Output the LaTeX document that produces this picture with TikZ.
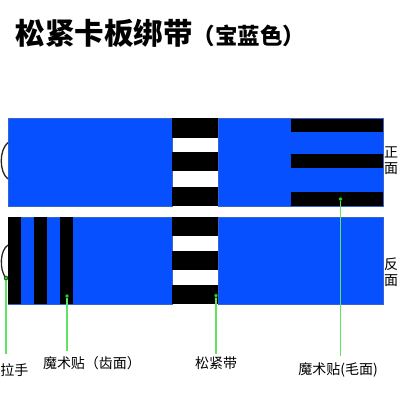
\documentclass[tikz,border=0pt]{standalone}
\usepackage{fontspec}
\setmainfont{Noto Sans CJK SC}
\newfontfamily\cjk{Noto Sans CJK SC}
\usepackage{tikz}

\definecolor{strapblue}{RGB}{6,80,255}
\definecolor{pointgreen}{RGB}{30,215,30}

\tikzset{
  labeltext/.style={inner sep=0pt, font=\fontsize{14}{14}\cjk},
  sidetext/.style={inner sep=0pt, font=\fontsize{14}{16}\cjk, align=center},
  pointer/.style={draw=pointgreen!70!white, line width=1.2pt},
  pointdot/.style={fill=pointgreen}
}

\begin{document}
\begin{tikzpicture}[x=1pt, y=-1pt]
            \useasboundingbox (0, 0) rectangle (400, 400);

            % draw title
            \node[anchor=west, inner sep=0pt] (title) at (15.5, 33) {\fontsize{29.5}{30}\cjk\bfseries 松紧卡板绑带\fontsize{22.5}{23}\selectfont（宝蓝色）};

            % draw blue strips
            \filldraw[fill=strapblue, draw=strapblue!60!gray, line width=0.4pt] (8, 118) -- (172, 118) -- (172, 206) -- (8, 206) -- (8, 118);
            \filldraw[fill=strapblue, draw=strapblue!60!gray, line width=0.4pt] (218, 118) -- (383, 118) -- (383, 206) -- (218, 206) -- (218, 118);
            \filldraw[fill=strapblue, draw=strapblue!60!gray, line width=0.4pt] (8, 217) -- (172, 217) -- (172, 304) -- (8, 304) -- (8, 217);
            \filldraw[fill=strapblue, draw=strapblue!60!gray, line width=0.4pt] (218, 217) -- (383, 217) -- (383, 304) -- (218, 304) -- (218, 217);

            % draw elastic band stripes
            \foreach \ya/\yb in {118/138, 152/171, 187/206, 217/236, 251/270, 285/304}
                \fill[black] (172, \ya) rectangle (218, \yb);

            % draw hook side (vertical stripes)
            \foreach \xa in {8, 34, 60}
                \fill[black] (\xa, 217) rectangle (\xa+13, 304);

            % draw loop side (horizontal stripes)
            \foreach \ya in {118.5, 154, 192}
                \fill[black] (291, \ya) rectangle (383, \ya+13.5);

            % draw pull tabs
            \draw[color=black!85, line width=1.3pt] (8, 142.5) .. controls (-1, 150) and (-1, 172) .. (8, 179);
            \draw[color=black!85, line width=1.3pt] (8, 245) .. controls (0, 250) and (-1, 270) .. (6, 278);

            % side texts
            \node[sidetext] (front) at (391, 161) {正\\面};
            \node[sidetext] (back) at (391, 272) {反\\面};

            % labels
            \node[labeltext] (pull) at (14.5, 370) {拉手};
            \node[labeltext] (hook) at (92, 363) {魔术贴（齿面）};
            \node[labeltext] (band) at (216, 363) {松紧带};
            \node[labeltext] (loop) at (338, 370) {魔术贴(毛面)};

            \coordinate (pulldot) at (6, 278);
            \coordinate (hookdot) at (67, 296);
            \coordinate (banddot) at (216, 295.5);
            \coordinate (loopdot) at (340.5, 199);

            % draw pointers
            \draw[pointer] (pulldot) -- ([yshift=9pt]pull.north -| pulldot);
            \draw[pointer] (hookdot) -- ([yshift=5pt]hook.north -| hookdot);
            \draw[pointer] (banddot) -- ([yshift=2pt]band.north -| banddot);
            \draw[pointer] (loopdot) -- ([yshift=7pt]loop.north -| loopdot);
            \filldraw[pointdot] (pulldot) circle (2pt);
            \filldraw[pointdot] (hookdot) circle (2pt);
            \filldraw[pointdot] (banddot) circle (2pt);
            \filldraw[pointdot] (loopdot) circle (2pt);
        \end{tikzpicture}
\end{document}
